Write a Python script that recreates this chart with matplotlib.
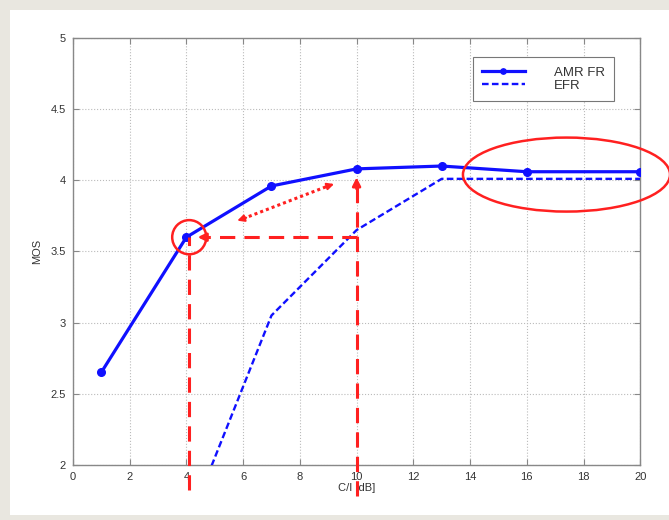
"""
MOS vs C/I for AMR FR and EFR codecs, with red annotation marks.
"""

import matplotlib
matplotlib.use("Agg")
import matplotlib.pyplot as plt
from matplotlib.patches import Ellipse, Rectangle

# ── Data ─────────────────────────────────────────────────────────
amr_ci = [1, 4, 7, 10, 13, 16, 20]
amr_mos = [2.65, 3.60, 3.96, 4.08, 4.10, 4.06, 4.06]

efr_ci = [4, 7, 10, 13, 16, 20]
efr_mos = [1.55, 3.05, 3.65, 4.01, 4.01, 4.01]

x_ticks = [0, 2, 4, 6, 8, 10, 12, 14, 16, 18, 20]
y_ticks = [2, 2.5, 3, 3.5, 4, 4.5, 5]
y_tick_labels = ["2", "2.5", "3", "3.5", "4", "4.5", "5"]

# annotation anchors (data units)
mark_lo = (4.1, 3.60)      # AMR point at 4 dB
mark_hi_x = 10.0           # EFR needs 10 dB for same MOS
mark_hi_top = 4.04
gap_arrow = [(5.7, 3.71), (9.3, 3.98)]
oval_center = (17.4, 4.04)

BLUE = "#1010ff"
RED = "#ff2020"

plt.rcParams["font.family"] = ["Liberation Sans", "DejaVu Sans"]

fig = plt.figure(figsize=(6.69, 5.2), dpi=100)
fig.patch.set_facecolor("#e9e7e0")
fig.add_artist(Rectangle((0.015, 0.01), 0.985, 0.97, transform=fig.transFigure,
                         facecolor="white", edgecolor="none", zorder=0))

ax = fig.add_axes([0.109, 0.106, 0.848, 0.821])
ax.set_facecolor("white")

ax.plot(amr_ci, amr_mos, "-o", color=BLUE, linewidth=2.3, markersize=5.5,
        label="AMR FR", zorder=4)
ax.plot(efr_ci, efr_mos, "--", color=BLUE, linewidth=1.7, dashes=(2.8, 1.4),
        label="EFR", zorder=4)

ax.set_xlim(0, 20)
ax.set_ylim(2, 5)
ax.set_xticks(x_ticks)
ax.set_yticks(y_ticks)
ax.set_yticklabels(y_tick_labels)
ax.tick_params(direction="in", top=True, right=True, labelsize=8,
               color="#888888", labelcolor="#333333", length=4, pad=5)
ax.grid(True, linestyle=":", color="#bbbbbb", linewidth=0.8)
for s in ax.spines.values():
    s.set_color("#888888")
    s.set_linewidth(1.0)

ax.set_xlabel("C/I [dB]", fontsize=8, color="#333333", labelpad=1)
ax.set_ylabel("MOS", fontsize=8, color="#333333", labelpad=6)

leg = ax.legend(loc="upper right", fontsize=9.5, handlelength=3.2,
                fancybox=False, framealpha=1, borderpad=0.7,
                labelspacing=0.05, handletextpad=2.2, markerscale=0.7,
                bbox_to_anchor=(0.965, 0.97))
leg.get_frame().set_edgecolor("#777777")
leg.get_frame().set_linewidth(0.8)
for t in leg.get_texts():
    t.set_color("#333333")

# ── Red annotations ─────────────────────────────────────────────
dash = (5, 3)
ax.plot([mark_lo[0], mark_lo[0]], [1.82, mark_lo[1]], color=RED,
        linewidth=2.2, dashes=dash, clip_on=False, zorder=5)
ax.plot([mark_hi_x, mark_lo[0] + 0.4], [mark_lo[1], mark_lo[1]], color=RED,
        linewidth=2.2, dashes=dash, clip_on=False, zorder=5)
ax.annotate("", xy=(mark_lo[0] + 0.2, mark_lo[1]),
            xytext=(mark_lo[0] + 0.7, mark_lo[1]),
            arrowprops=dict(arrowstyle="-|>", color=RED, lw=2,
                            mutation_scale=12), zorder=6)
ax.plot([mark_hi_x, mark_hi_x], [1.78, mark_hi_top - 0.08], color=RED,
        linewidth=2.2, dashes=dash, clip_on=False, zorder=5)
ax.annotate("", xy=(mark_hi_x, mark_hi_top),
            xytext=(mark_hi_x, mark_hi_top - 0.12),
            arrowprops=dict(arrowstyle="-|>", color=RED, lw=2,
                            mutation_scale=12), zorder=6)

ax.add_patch(Ellipse(mark_lo, width=1.2, height=0.24, fill=False,
                     edgecolor=RED, linewidth=1.8, zorder=6))

(x0, y0), (x1, y1) = gap_arrow
ax.plot([x0 + 0.3, x1 - 0.3], [y0 + 0.02, y1 - 0.02], color=RED,
        linewidth=2.2, linestyle=(0, (1, 1)), zorder=5)
ax.annotate("", xy=(x0, y0), xytext=(x0 + 0.5, y0 + 0.033),
            arrowprops=dict(arrowstyle="-|>", color=RED, lw=1.5,
                            mutation_scale=10), zorder=6)
ax.annotate("", xy=(x1, y1), xytext=(x1 - 0.5, y1 - 0.033),
            arrowprops=dict(arrowstyle="-|>", color=RED, lw=1.5,
                            mutation_scale=10), zorder=6)

ax.add_patch(Ellipse(oval_center, width=7.3, height=0.52, fill=False,
                     edgecolor=RED, linewidth=1.8, clip_on=False, zorder=6))

fig.savefig("out.png", dpi=100, facecolor=fig.get_facecolor())
